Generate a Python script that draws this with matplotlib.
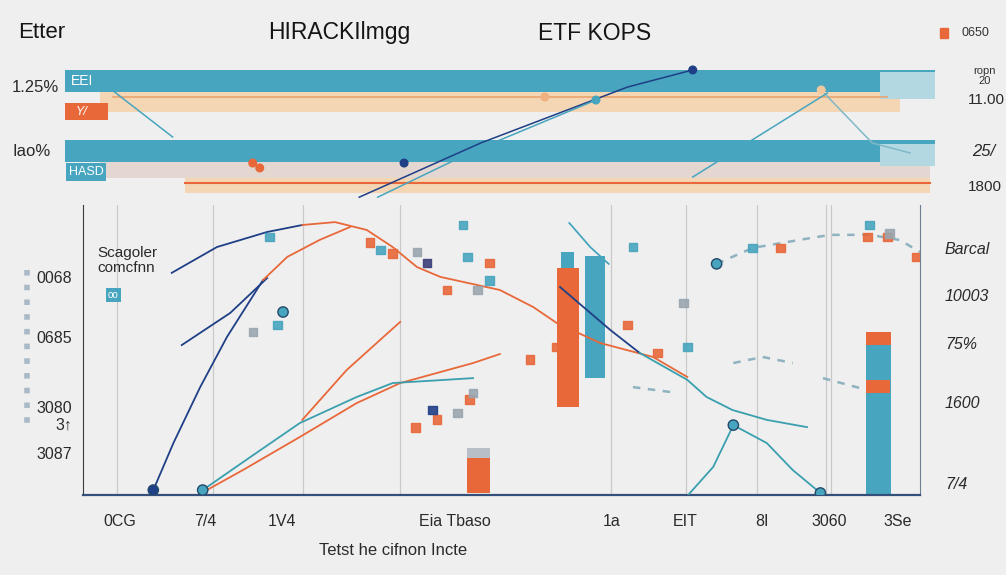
import matplotlib
matplotlib.use('Agg')
import matplotlib.pyplot as plt
from matplotlib.lines import Line2D

plt.rcParams['font.family'] = ['Liberation Sans', 'DejaVu Sans']

BG = '#efefef'
TEAL = '#47a5bf'
ORANGE = '#e8683a'
PEACH = '#f4d6b4'
NAVY = '#1f3f86'
GREY = '#9aa6b0'

# ---- top panel: horizontal bands (x 0-100, y 0-10) ----
band_y = [8.5, 7.0, 6.32, 3.5, 2.14, 1.04]
band_left = [0.6, 4.5, 0.6, 0.6, 4.5, 14.2]
band_width = [98.8, 91.0, 4.9, 98.8, 94.4, 84.7]
band_height = [1.57, 1.36, 1.21, 1.57, 1.14, 1.07]
band_colors = [TEAL, PEACH, ORANGE, TEAL, '#e4d6d0', PEACH]

top_line_x = [[34.0, 47.8, 64.5, 71.9], [36.1, 47.0, 60.9], [5.9, 12.8],
              [86.5, 92.3, 96.6], [71.9, 87.2]]
top_line_y = [[0.2, 4.07, 8.07, 9.29], [0.2, 3.5, 7.14], [7.86, 4.5],
              [7.86, 4.07, 3.36], [1.64, 7.64]]
top_line_colors = [NAVY, TEAL, TEAL, '#7fb8c8', TEAL]

top_dot_x = [71.9, 60.9, 86.5, 21.9, 22.7, 33.0, 55.1, 39.1]
top_dot_y = [9.29, 7.14, 7.86, 2.64, 2.29, 8.8, 7.36, 2.64]
top_dot_c = [NAVY, TEAL, '#f0c9a0', ORANGE, ORANGE, TEAL, '#f0b080', NAVY]

# ---- main chart (x 0-100, y 0-100) ----
lines_x = [
    [8.4, 10.8, 14.0, 17.2, 21.5],
    [11.8, 17.6, 22.0],
    [10.6, 16.0, 22.0, 26.2],
    [21.5, 24.4, 28.3, 31.9],
    [26.2, 30.1, 33.9, 37.0, 39.9, 42.7, 49.8, 53.8, 56.6, 61.8, 68.1, 72.2],
    [14.8, 19.1, 25.9, 32.7, 37.9, 46.6, 49.8],
    [26.2, 31.5, 37.9],
    [14.3, 20.0, 25.9, 32.7, 37.0, 46.6],
    [57.0, 63.0, 66.5],
    [66.5, 72.2, 74.5, 77.6, 81.7, 86.5],
    [72.3, 75.3, 77.7, 81.7, 84.8, 88.1],
    [58.1, 60.6, 62.8],
]
lines_y = [
    [1.7, 17.9, 37.2, 54.5, 74.1],
    [51.7, 62.8, 74.8],
    [76.6, 85.5, 90.7, 93.1],
    [74.1, 82.1, 88.0, 92.4],
    [93.1, 94.1, 91.4, 85.5, 78.6, 75.2, 70.7, 64.8, 59.3, 52.4, 47.6, 40.7],
    [1.7, 8.6, 20.0, 31.7, 38.6, 45.5, 48.6],
    [25.9, 43.1, 59.7],
    [1.7, 13.1, 24.8, 33.8, 38.6, 40.3],
    [71.7, 56.9, 49.0],
    [49.0, 39.7, 33.8, 29.3, 25.9, 23.4],
    [0.0, 9.7, 24.1, 17.9, 8.6, 0.7],
    [93.8, 85.5, 79.7],
]
lines_c = [NAVY, NAVY, NAVY, ORANGE, ORANGE, ORANGE, ORANGE, '#3a9fae',
           NAVY, '#3a9fae', '#3a9fae', TEAL]

dash_x = [[75.7, 80.0, 86.9, 89.3, 94.1, 97.6, 100], [77.7, 81.2, 84.8],
          [65.7, 71.0], [88.4, 93.7]]
dash_y = [[79.7, 85.2, 88.6, 89.7, 89.7, 87.9, 83.8], [45.5, 47.6, 45.5],
          [37.2, 35.2], [40.3, 36.2]]

bar_x = [57.9, 57.9, 61.2, 47.3, 47.3, 95.0, 95.0, 95.0]
bar_bottom = [30.3, 78.3, 40.3, 0.7, 12.8, 0.0, 51.7, 35.2]
bar_height = [48.0, 5.5, 42.1, 12.1, 3.4, 51.7, 4.5, 4.5]
bar_width = [2.6, 1.6, 2.4, 2.75, 2.75, 3.0, 3.0, 2.8]
bar_colors = [ORANGE, TEAL, TEAL, ORANGE, '#b9bfc6', TEAL, ORANGE, ORANGE]

sq_x = [39.7, 42.3, 44.7, 46.2, 46.6, 41.8, 34.3, 37.0, 35.5, 39.9, 41.1, 43.5,
        47.1, 48.6, 48.6, 45.9, 22.3, 23.2, 20.3, 45.4, 93.7, 96.1, 99.6, 94.0,
        96.4, 83.3, 80.0, 68.6, 65.1, 72.2, 71.7, 65.7, 53.4, 56.6]
sq_y = [23.4, 25.9, 28.3, 32.8, 35.2, 29.3, 87.2, 83.4, 84.5, 83.8, 80.0, 70.7,
        70.7, 74.1, 80.0, 82.1, 89.0, 58.6, 56.2, 93.1, 89.0, 89.0, 82.1, 93.1,
        90.3, 85.2, 85.2, 49.0, 58.6, 51.0, 66.2, 85.5, 46.6, 51.0]
sq_c = [ORANGE, ORANGE, GREY, ORANGE, GREY, NAVY, ORANGE, ORANGE, TEAL, GREY,
        '#3c3f7a', ORANGE, GREY, TEAL, ORANGE, TEAL, TEAL, TEAL, GREY, TEAL,
        ORANGE, ORANGE, ORANGE, TEAL, GREY, ORANGE, TEAL, ORANGE, ORANGE, TEAL,
        GREY, TEAL, ORANGE, ORANGE]

dot_x = [8.4, 14.3, 88.1, 77.7, 75.7, 23.9]
dot_y = [1.7, 1.7, 0.7, 24.1, 79.7, 63.1]
dot_c = [NAVY, TEAL, TEAL, TEAL, TEAL, TEAL]

grid_x = [4.1, 15.5, 26.3, 37.9, 63.1, 72.0, 80.5, 88.8, 89.4]

xtick_pos = [4.4, 14.6, 23.8, 44.4, 63.2, 72.0, 81.1, 89.1, 97.3]
xtick_labels = ['0CG', '7/4', '1V4', 'Eia Tbaso', '1a', 'EIT', '8I', '3060', '3Se']
ytick_pos = [75.2, 54.5, 30.3, 24.8, 14.5]
ytick_labels = ['0068', '0685', '3080', '3↑', '3087']
rtick_pos = [85.2, 69.0, 52.4, 32.1, 4.1]
rtick_labels = ['Barcal', '10003', '75%', '1600', '7/4']

fig = plt.figure(figsize=(10.06, 5.75), dpi=100, facecolor=BG)

# top bands
axt = fig.add_axes([60 / 1006, 375 / 575, 880 / 1006, 140 / 575])
axt.set_xlim(0, 100)
axt.set_ylim(0, 10)
axt.axis('off')
axt.barh(band_y, band_width, height=band_height, left=band_left, color=band_colors)
axt.barh([8.2, 3.2], [6.2, 6.2], height=[1.9, 1.6], left=[93.2, 93.2], color='#b4d8e2')
axt.plot([6, 94], [7.36, 7.36], color='#e9a46e', lw=1.2)
axt.plot([14.2, 98.9], [1.21, 1.21], color=ORANGE, lw=1.5)
for xs, ys, c in zip(top_line_x, top_line_y, top_line_colors):
    axt.plot(xs, ys, color=c, lw=1.1)
axt.scatter(top_dot_x, top_dot_y, s=30, c=top_dot_c, zorder=5)
axt.text(1.2, 8.5, 'EEI', color='white', fontsize=10, va='center')
axt.text(1.8, 6.3, 'Y/', color='white', fontsize=9, va='center', style='italic')
axt.text(1.0, 2.0, 'HASD', color='white', fontsize=9, va='center',
         bbox=dict(fc=TEAL, ec='none', pad=2))

# main axes
ax = fig.add_axes([83 / 1006, 80 / 575, 837 / 1006, 290 / 575])
ax.set_facecolor('none')
ax.set_xlim(0, 100)
ax.set_ylim(0, 100)
for gx in grid_x:
    ax.axvline(gx, color='#c9c9c9', lw=0.9, zorder=0)
for xs, ys, c in zip(lines_x, lines_y, lines_c):
    ax.plot(xs, ys, color=c, lw=1.3, zorder=3)
for xs, ys in zip(dash_x, dash_y):
    ax.plot(xs, ys, color='#8fb2c0', lw=1.8, ls=(0, (3, 3)), zorder=2)
ax.bar(bar_x, bar_height, width=bar_width, bottom=bar_bottom, color=bar_colors, zorder=2)
ax.scatter(sq_x, sq_y, marker='s', s=40, c=sq_c, alpha=0.9, zorder=4)
ax.scatter(dot_x, dot_y, s=55, c=dot_c, edgecolors='#244a6a', lw=1, zorder=5)

ax.spines['top'].set_visible(False)
ax.spines['left'].set_color('#3a3a3a')
ax.spines['bottom'].set_color('#34507a')
ax.spines['bottom'].set_linewidth(1.6)
ax.spines['right'].set_color('#6f7f8f')
ax.set_xticks(xtick_pos, xtick_labels, fontsize=11.5, color='#2a2a2a')
ax.set_yticks(ytick_pos, ytick_labels, fontsize=11.5, color='#2a2a2a')
ax.tick_params(axis='x', length=0, pad=14)
ax.tick_params(axis='y', length=0, pad=8)
ax.set_xlabel('Tetst he cifnon Incte', fontsize=12, color='#2a2a2a')
ax.xaxis.set_label_coords(0.37, -0.165)

axr = ax.twinx()
axr.set_ylim(0, 100)
axr.set_yticks(rtick_pos, rtick_labels, fontsize=11.5, color='#2a2a2a', style='italic')
axr.tick_params(axis='y', length=0, pad=18)
for s in ['top', 'left', 'bottom', 'right']:
    axr.spines[s].set_visible(False)

ax.text(0.017, 0.81, 'Scagoler\ncomcfnn', transform=ax.transAxes, fontsize=11,
        color='#2a2a2a', va='center', linespacing=1.1)
ax.text(0.03, 0.69, 'oo', transform=ax.transAxes, fontsize=7, color='white',
        va='center', bbox=dict(fc=TEAL, ec='none', pad=1.5))

# titles and side labels
fig.text(18 / 1006, 1 - 33 / 575, 'Etter', fontsize=16, color='#151515', va='center')
fig.text(268 / 1006, 1 - 33 / 575, 'HIRACKIlmgg', fontsize=16.5, color='#151515',
         va='center')
fig.text(538 / 1006, 1 - 33 / 575, 'ETF KOPS', fontsize=16.5, color='#151515', va='center')
fig.patches.append(plt.Rectangle((940 / 1006, 1 - 38 / 575), 8 / 1006, 10 / 575,
                                 color=ORANGE, transform=fig.transFigure))
fig.text(962 / 1006, 1 - 33 / 575, '0650', fontsize=9, color='#333333', va='center')
fig.text(12 / 1006, 1 - 87 / 575, '1.25%', fontsize=12, color='#2a2a2a', va='center')
fig.text(12 / 1006, 1 - 152 / 575, 'Iao%', fontsize=12, color='#2a2a2a', va='center')
fig.text(985 / 1006, 1 - 76 / 575, 'ropn\n20', fontsize=8, color='#333333',
         va='center', ha='center', linespacing=1.0)
fig.text(968 / 1006, 1 - 100 / 575, '11.00', fontsize=11, color='#2a2a2a', va='center')
fig.text(972 / 1006, 1 - 152 / 575, '25/', fontsize=12, color='#2a2a2a', va='center',
         style='italic')
fig.text(968 / 1006, 1 - 187 / 575, '1800', fontsize=11, color='#2a2a2a', va='center')

fig.add_artist(Line2D([27 / 1006, 27 / 1006], [1 - 270 / 575, 1 - 425 / 575],
                      color='#a9b9c6', lw=4, ls=':'))

fig.savefig('out.png', dpi=100, facecolor=fig.get_facecolor())
